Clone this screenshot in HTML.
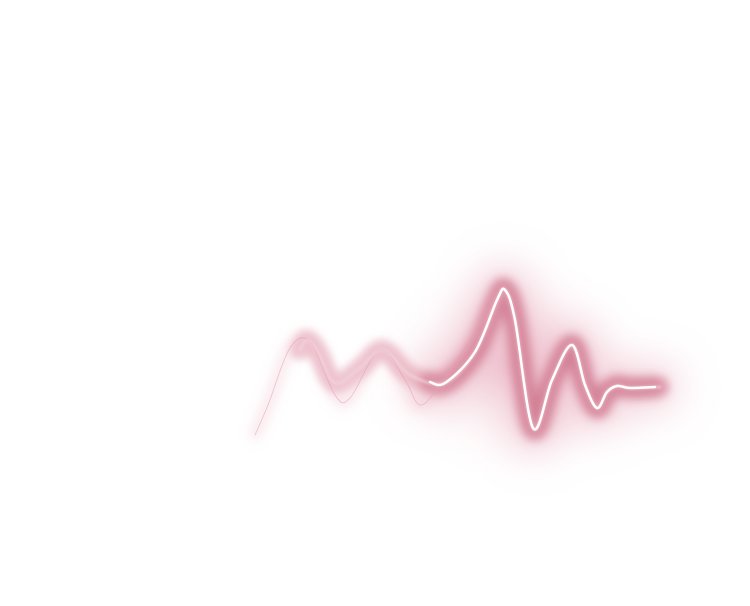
<!DOCTYPE html>
<html><head><meta charset="utf-8"><style>
html,body{margin:0;padding:0;background:#fff;width:750px;height:606px;overflow:hidden;font-family:"Liberation Sans",sans-serif}
</style></head><body>
<svg id="chart" width="750" height="606" viewBox="0 0 750 606">
<defs>
<filter id="b20" x="-50%" y="-50%" width="200%" height="200%"><feGaussianBlur stdDeviation="20"/></filter>
<filter id="b8" x="-50%" y="-50%" width="200%" height="200%"><feGaussianBlur stdDeviation="6"/></filter>
<filter id="b4" x="-50%" y="-50%" width="200%" height="200%"><feGaussianBlur stdDeviation="4"/></filter>
<filter id="b3" x="-50%" y="-50%" width="200%" height="200%"><feGaussianBlur stdDeviation="3"/></filter>
<filter id="b1" x="-50%" y="-50%" width="200%" height="200%"><feGaussianBlur stdDeviation="1"/></filter>
<radialGradient id="halo" cx="0.5" cy="0.5" r="0.5">
<stop offset="0" stop-color="#eab0bf" stop-opacity="0.5"/>
<stop offset="1" stop-color="#fff" stop-opacity="0"/>
</radialGradient>
</defs>
<ellipse cx="510" cy="365" rx="140" ry="125" fill="url(#halo)"/>
<g id="layers"></g>
</svg>
<script>
const xs = [300, 307, 318, 335, 360, 383, 410, 445, 475, 497, 505, 515, 533, 552, 572, 585, 597, 607, 617, 630, 660];
const ys = [350, 340, 352, 383, 368, 350, 375, 383, 352, 300, 290, 320, 428, 380, 345, 385, 408, 392, 386, 388, 387];
const brightXs = [430, 445, 475, 497, 505, 515, 533, 552, 572, 585, 597, 607, 617, 630, 655];
const brightYs = [382, 383, 352, 300, 290, 320, 428, 380, 345, 385, 408, 392, 386, 388, 387];
const echoXs = [255, 268, 290, 310, 335, 350, 380, 405, 420, 440, 470, 500];
const echoYs = [435, 405, 348, 342, 395, 398, 350, 380, 405, 385, 340, 295];

function smoothPath(px, py) {
  let d = `M${px[0]},${py[0]}`;
  for (let i = 0; i < px.length - 1; i++) {
    const x0 = px[Math.max(i - 1, 0)], y0 = py[Math.max(i - 1, 0)];
    const x1 = px[i], y1 = py[i], x2 = px[i + 1], y2 = py[i + 1];
    const x3 = px[Math.min(i + 2, px.length - 1)], y3 = py[Math.min(i + 2, py.length - 1)];
    d += ` C${x1 + (x2 - x0) / 6},${y1 + (y2 - y0) / 6} ${x2 - (x3 - x1) / 6},${y2 - (y3 - y1) / 6} ${x2},${y2}`;
  }
  return d;
}
const g = document.getElementById('layers');
const NS = 'http://www.w3.org/2000/svg';
function add(d, stroke, w, op, filt, name) {
  const p = document.createElementNS(NS, 'path');
  p.setAttribute('d', d);
  p.setAttribute('fill', 'none');
  p.setAttribute('stroke', stroke);
  p.setAttribute('stroke-width', w);
  p.setAttribute('stroke-opacity', op);
  p.setAttribute('stroke-linecap', 'round');
  p.setAttribute('stroke-linejoin', 'round');
  if (filt) p.setAttribute('filter', filt);
  
  
  g.appendChild(p);
}
const main = smoothPath(xs, ys);
const bright = smoothPath(brightXs, brightYs);
const echo = smoothPath(echoXs, echoYs);
add(bright, '#e39aae', 50, 0.4, 'url(#b20)', 'wave-outer-glow');
add(main, '#e3a0b2', 20, 0.6, 'url(#b4)', 'wave-band');
add(bright, '#c5607c', 20, 0.6, 'url(#b8)', 'wave-inner-glow');
add(echo, '#eab3c0', 10, 0.35, 'url(#b8)', 'echo-wave-glow');
add(echo, '#e0a0b0', 0.8, 0.6, null, 'echo-wave-line');
add(main, '#f3d3dc', 3, 0.7, 'url(#b1)', 'wave-pale-line');
add(bright, '#e8a9b8', 5, 0.7, 'url(#b3)', 'wave-line-halo');
add(bright, '#ffffff', 2.5, 1, null, 'wave-line');
</script>
</body></html>
